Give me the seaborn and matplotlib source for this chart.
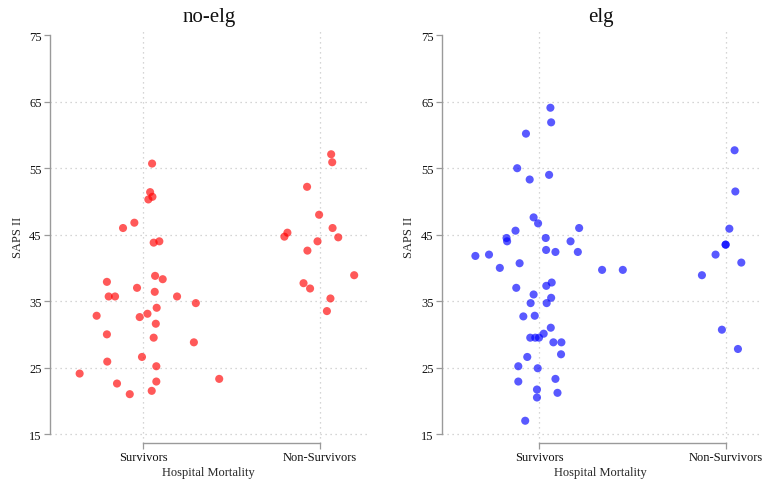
import matplotlib
matplotlib.use("Agg")
import matplotlib.pyplot as plt
import seaborn as sns
import pandas as pd
import numpy as np

categories = ["Survivors", "Non-Survivors"]
panels = ["no-elg", "elg"]
y_ticks = [15, 25, 35, 45, 55, 65, 75]

# no-elg group: SAPS II values and horizontal jitter offsets
noelg_surv_saps = [55.7, 51.4, 50.7, 50.3, 46.0, 46.8, 43.8, 44.0, 37.9, 38.8, 38.3, 37.0,
                   36.4, 35.7, 35.7, 35.7, 34.7, 32.8, 34.0, 33.1, 32.6, 31.6, 30.0, 29.5,
                   28.8, 26.6, 25.9, 25.2, 24.1, 23.3, 22.6, 22.9, 21.5, 21.0]
noelg_surv_jit = [0.051, 0.040, 0.053, 0.030, -0.113, -0.049, 0.060, 0.092, -0.204, 0.068,
                  0.111, -0.034, 0.066, -0.194, -0.158, 0.192, 0.298, -0.262, 0.077, 0.025,
                  -0.019, 0.072, -0.204, 0.060, 0.287, -0.006, -0.202, 0.075, -0.358, 0.430,
                  -0.147, 0.075, 0.049, -0.075]
noelg_nons_saps = [57.1, 55.9, 52.2, 48.0, 46.0, 45.3, 44.7, 44.6, 44.0, 42.6, 38.9, 37.7,
                   36.9, 35.4, 33.5]
noelg_nons_jit = [0.062, 0.068, -0.074, -0.006, 0.070, -0.185, -0.202, 0.102, -0.015,
                  -0.072, 0.192, -0.094, -0.057, 0.058, 0.038]

# elg group
elg_surv_saps = [64.1, 61.9, 60.2, 55.0, 54.0, 53.3, 47.6, 46.7, 46.0, 45.6, 44.5, 44.0,
                 44.5, 44.0, 42.7, 42.4, 42.4, 41.8, 42.0, 40.7, 40.0, 39.7, 39.7, 37.8,
                 37.3, 37.0, 36.0, 35.5, 34.7, 34.7, 32.7, 32.8, 31.0, 30.1, 29.5, 29.5,
                 29.5, 28.8, 28.8, 27.0, 26.6, 25.2, 24.9, 22.9, 23.3, 21.7, 21.2, 20.5, 17.0]
elg_surv_jit = [0.061, 0.065, -0.070, -0.117, 0.054, -0.050, -0.029, -0.005, 0.215, -0.126,
                -0.174, -0.171, 0.036, 0.169, 0.038, 0.088, 0.208, -0.341, -0.268, -0.104,
                -0.210, 0.338, 0.449, 0.068, 0.039, -0.122, -0.029, 0.065, -0.045, 0.041,
                -0.084, -0.023, 0.063, 0.025, -0.047, -0.020, 0.000, 0.077, 0.120, 0.118,
                -0.063, -0.111, -0.007, -0.111, 0.088, -0.011, 0.099, -0.011, -0.074]
elg_nons_saps = [57.7, 51.5, 45.9, 43.5, 43.5, 42.0, 40.8, 38.9, 30.7, 27.8]
elg_nons_jit = [0.048, 0.052, 0.020, 0.0, 0.0, -0.054, 0.084, -0.127, -0.020, 0.066]

panel_colors = {"no-elg": "#ff0000", "elg": "#0000ff"}
panel_xlim = {"no-elg": (-0.525, 1.266), "elg": (-0.52, 1.18)}

def build(surv_y, surv_j, nons_y, nons_j):
    rows = []
    for y, j in zip(surv_y, surv_j):
        rows.append({"cat": 0, "jit": j, "saps": y})
    for y, j in zip(nons_y, nons_j):
        rows.append({"cat": 1, "jit": j, "saps": y})
    df = pd.DataFrame(rows)
    df["xpos"] = df["cat"] + df["jit"]
    return df

data = {
    "no-elg": build(noelg_surv_saps, noelg_surv_jit, noelg_nons_saps, noelg_nons_jit),
    "elg": build(elg_surv_saps, elg_surv_jit, elg_nons_saps, elg_nons_jit),
}

sns.set_theme(style="white")
plt.rcParams["font.family"] = ["Liberation Serif", "DejaVu Serif"]
plt.rcParams["text.color"] = "#111111"

fig = plt.figure(figsize=(7.7, 4.89), dpi=100)
positions = {"no-elg": [0.065, 0.092, 0.412, 0.846], "elg": [0.574, 0.092, 0.412, 0.846]}
spine_col = "#9a9a9a"
grid_col = "#c8c8c8"

for name in panels:
    ax = fig.add_axes(positions[name])
    df = data[name]
    sns.scatterplot(data=df, x="xpos", y="saps", ax=ax, color=panel_colors[name],
                    alpha=0.65, s=34, edgecolor="none", linewidth=0, legend=False, zorder=3)
    ax.set_xlim(*panel_xlim[name])
    ax.set_ylim(13.65, 75.9)
    ax.set_xticks([0, 1])
    ax.set_xticklabels(categories, fontsize=9)
    ax.set_yticks(y_ticks)
    ax.set_yticklabels([str(t) for t in y_ticks], fontsize=9)
    ax.set_xlabel("Hospital Mortality", fontsize=9, labelpad=2)
    ax.set_ylabel("SAPS II", fontsize=9, labelpad=4)
    ax.set_title(name, fontsize=15, pad=6)
    ax.grid(True, linestyle=(0, (1, 3)), color=grid_col, linewidth=0.9, zorder=0)
    ax.get_ygridlines()[-1].set_visible(False)
    for s in ["top", "right"]:
        ax.spines[s].set_visible(False)
    ax.spines["left"].set_bounds(15, 75)
    ax.spines["bottom"].set_bounds(0, 1)
    for s in ["left", "bottom"]:
        ax.spines[s].set_color(spine_col)
        ax.spines[s].set_linewidth(1.0)
    ax.tick_params(axis="both", which="major", length=4, width=0.9, color=spine_col,
                   labelcolor="#111111", pad=2, direction="out", bottom=True, left=True)
    ax.set_facecolor("white")

fig.savefig("out.png", dpi=100, facecolor="white")
